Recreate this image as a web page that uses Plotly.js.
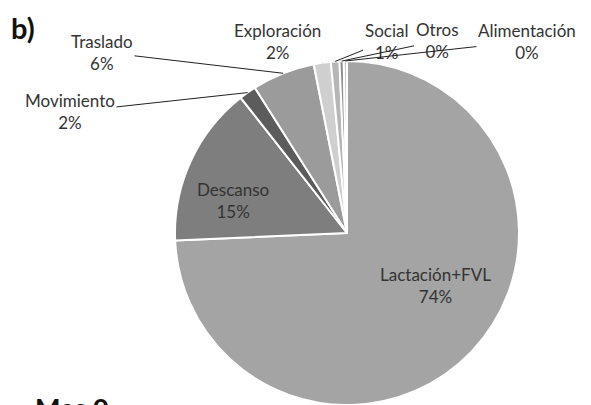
<!DOCTYPE html>
<html>
<head>
<meta charset="utf-8">
<script src="https://cdn.plot.ly/plotly-3.0.1.min.js"></script>
<style>
  html, body { margin: 0; padding: 0; background: #fff; overflow: hidden; }
  #chart { width: 591px; height: 405px; }
</style>
</head>
<body>
<div id="chart"></div>
<script>
var labels = ['Lactación+FVL', 'Descanso', 'Movimiento', 'Traslado', 'Exploración', 'Social', 'Otros', 'Alimentación'];
var values = [74.3, 15.1, 1.6, 5.9, 1.6, 0.8, 0.4, 0.3];
var sliceColors = ['#a4a4a4', '#7e7e7e', '#5c5c5c', '#9b9b9b', '#cfcfcf', '#b6b6b6', '#8f8f8f', '#c6c6c6'];

// label centres in pixels, by slice index; "out" ones get a leader line
var labelSpots = {
  0: [435, 285, 'in'],
  1: [233, 200, 'in'],
  2: [70, 112, 'out'],
  3: [102, 52, 'out'],
  4: [277, 41, 'out'],
  5: [386, 41, 'out'],
  6: [437, 41, 'out'],
  7: [527, 41, 'out']
};

var W = 591, H = 405;
var cx = 347, cy = 233, r = 172;
var labelFont = {family: 'Lato', size: 17, color: '#333'};

function main(){
  var total = values.reduce(function(a, b){ return a + b; }, 0);

  var annotations = [];
  var cum = 0;
  values.forEach(function(v, i){
    var mid = (cum + v / 2) / total * 2 * Math.PI;
    cum += v;
    var spot = labelSpots[i];
    var txt = labels[i] + '<br>' + Math.round(v / total * 100) + '%';
    if (spot[2] == 'in') {
      annotations.push({
        xref: 'paper', yref: 'paper',
        x: spot[0] / W, y: 1 - spot[1] / H,
        xanchor: 'center', yanchor: 'middle',
        text: txt, showarrow: false, font: labelFont
      });
      return;
    }
    var tx = cx + r * Math.sin(mid);
    var ty = cy - r * Math.cos(mid);
    annotations.push({
      xref: 'paper', yref: 'paper',
      x: tx / W, y: 1 - ty / H,
      ax: spot[0] - tx, ay: spot[1] - ty,
      text: txt,
      showarrow: true,
      arrowhead: 0,
      arrowwidth: 1,
      arrowcolor: '#222',
      standoff: 0,
      font: labelFont
    });
  });

  annotations.push({
    xref: 'paper', yref: 'paper',
    x: 9 / W, y: 1 - 8 / H,
    xanchor: 'left', yanchor: 'top',
    text: '<b>b)</b>', showarrow: false,
    font: {family: 'Lato', size: 29, color: '#111'}
  });
  annotations.push({
    xref: 'paper', yref: 'paper',
    x: 33 / W, y: 1 - 389 / H,
    xanchor: 'left', yanchor: 'top',
    text: '<b>Mes 0</b>', showarrow: false,
    font: {family: 'Lato', size: 27, color: '#111'}
  });

  var data = [{
    type: 'pie',
    labels: labels,
    values: values,
    sort: false,
    direction: 'clockwise',
    rotation: 0,
    marker: {
      colors: sliceColors,
      line: {color: '#ffffff', width: 2}
    },
    textinfo: 'none',
    hoverinfo: 'none',
    showlegend: false,
    domain: {
      x: [(cx - r) / W, (cx + r) / W],
      y: [(H - cy - r) / H, (H - cy + r) / H]
    }
  }];

  var layout = {
    width: W,
    height: H,
    margin: {l: 0, r: 0, t: 0, b: 0},
    paper_bgcolor: '#ffffff',
    annotations: annotations
  };

  Plotly.newPlot('chart', data, layout, {
    staticPlot: true,
    displayModeBar: false
  });
}

main();
</script>
</body>
</html>
